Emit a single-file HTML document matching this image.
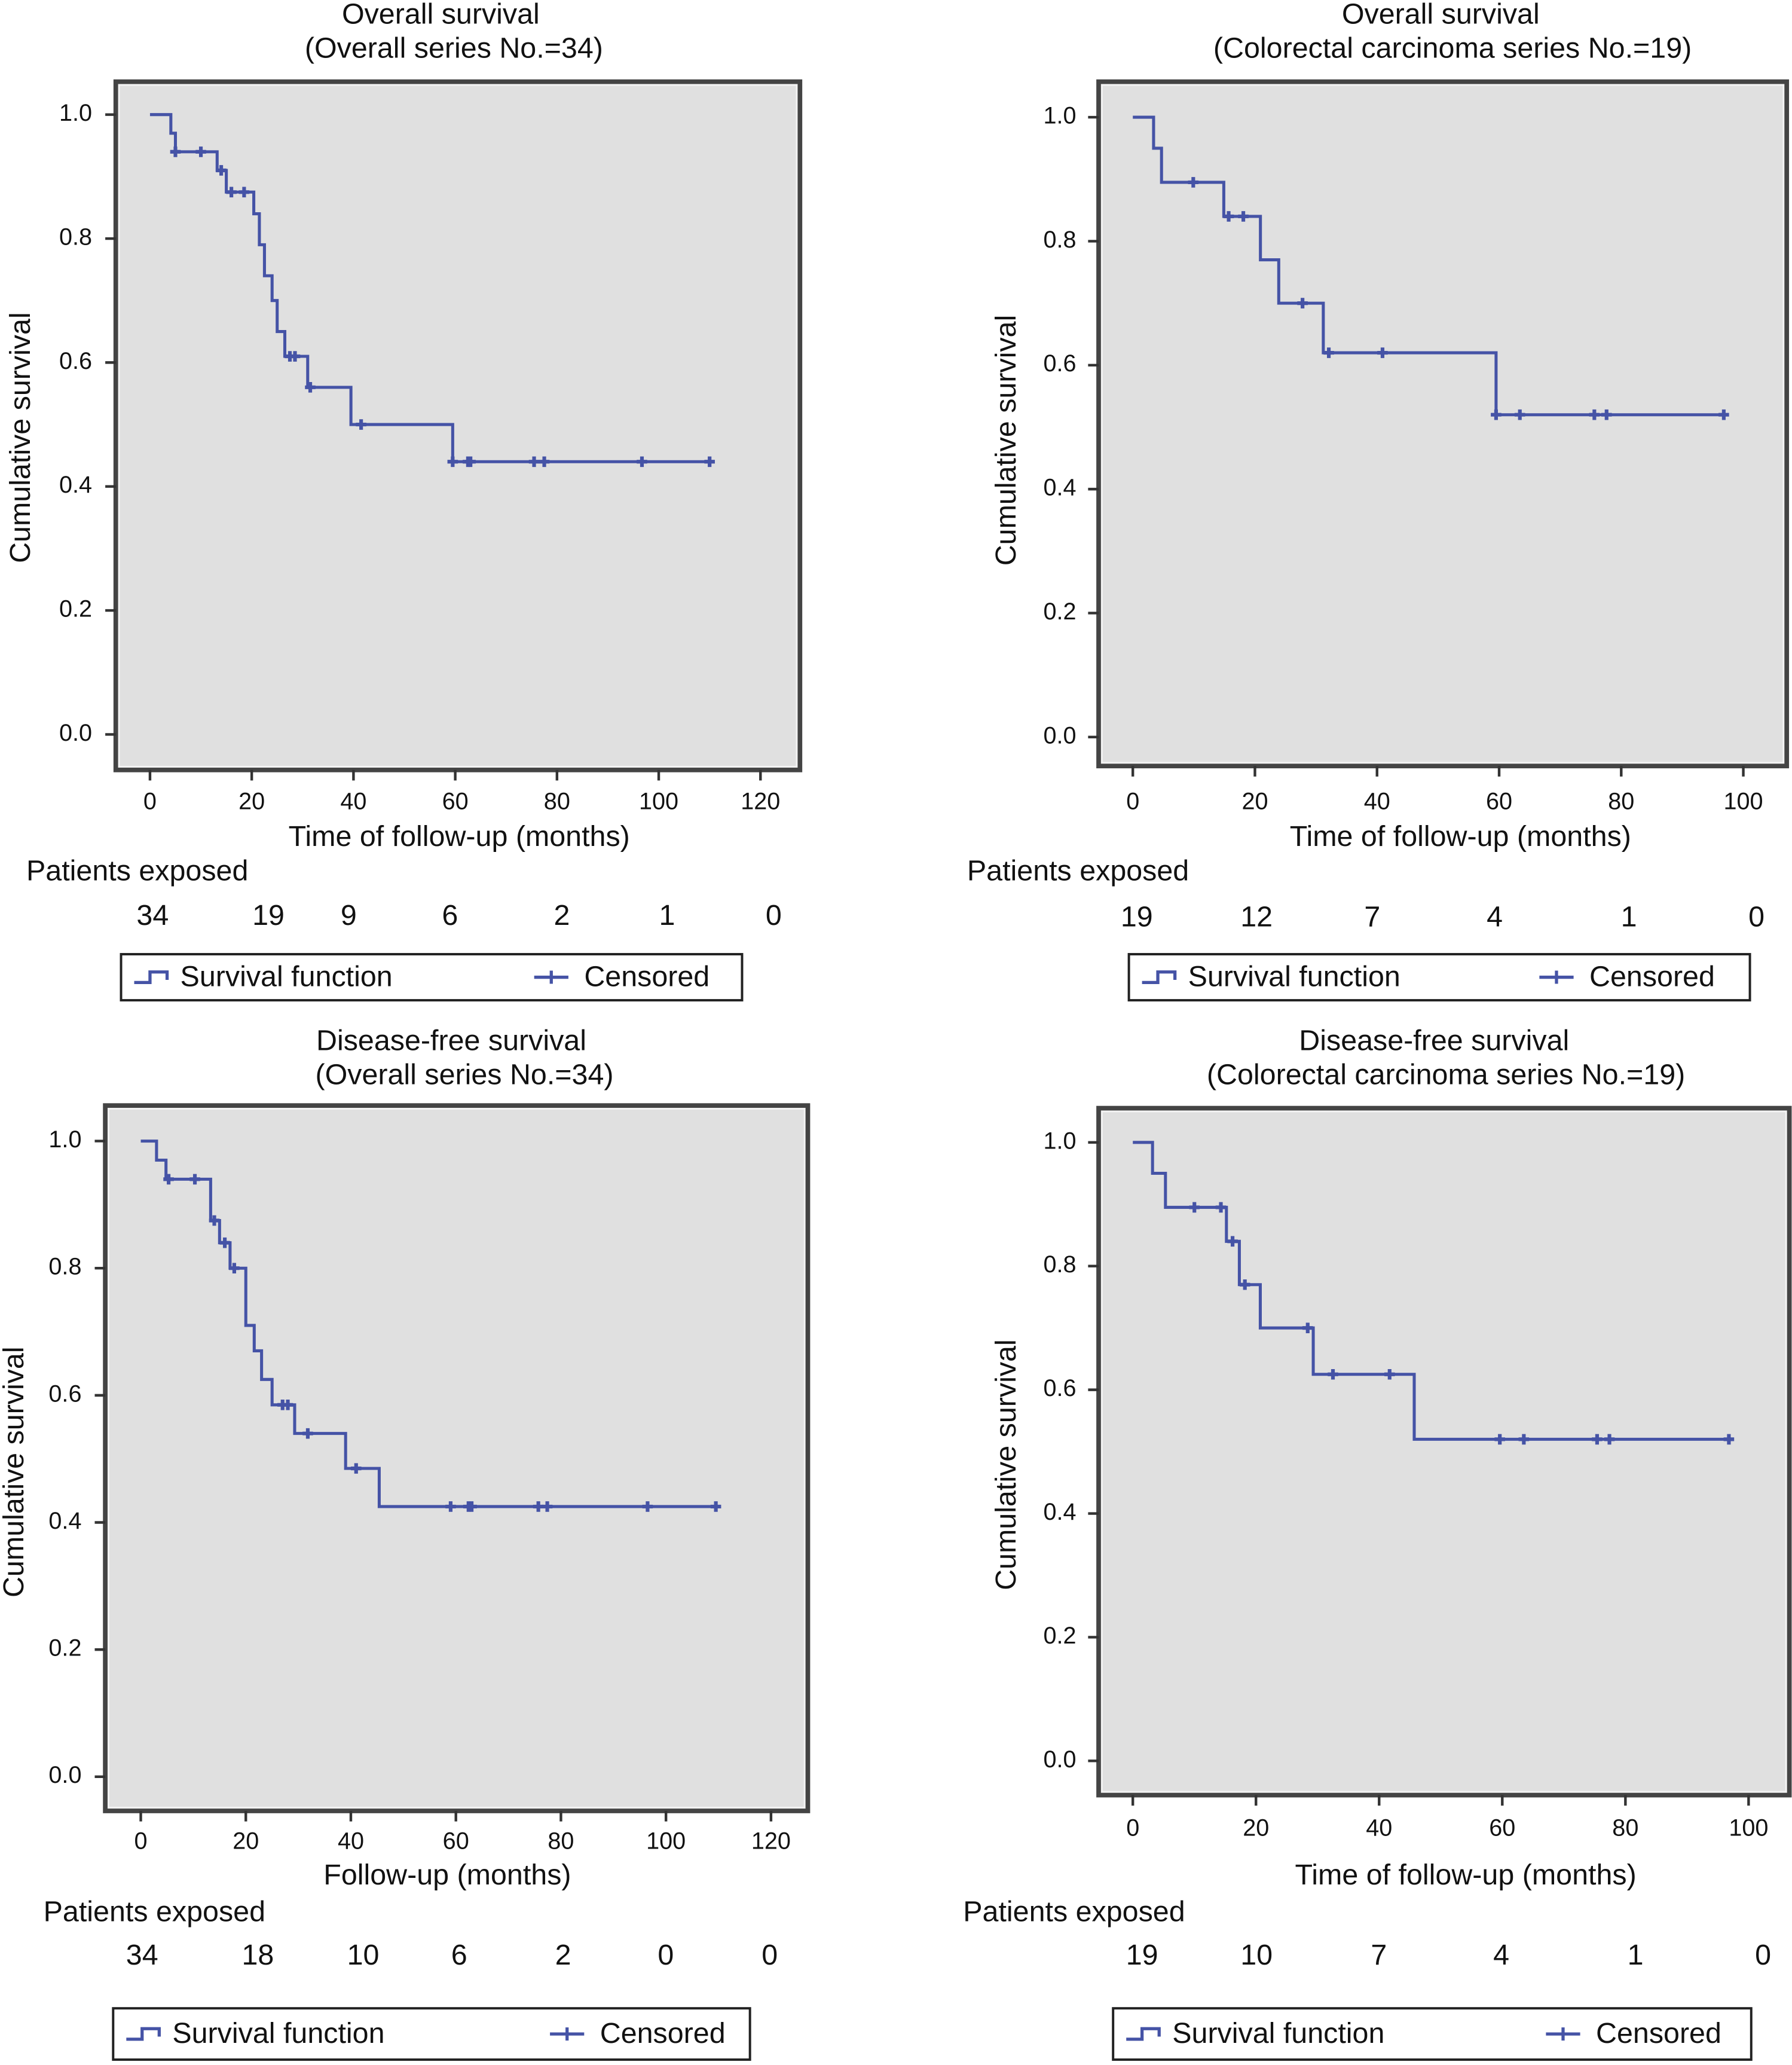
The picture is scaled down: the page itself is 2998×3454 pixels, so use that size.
<!DOCTYPE html>
<html><head><meta charset="utf-8">
<style>
html,body{margin:0;padding:0;background:#fff;}
svg{display:block;}
text{font-family:"Liberation Sans",sans-serif;fill:#111;}
</style></head>
<body>
<svg id="fig" width="2998" height="3454" viewBox="0 0 1362 1569" xmlns="http://www.w3.org/2000/svg"></svg>
<script>
// ---- Panel A: Overall survival, overall series ----
const aEventTimes = [4.1, 5.0, 13.2, 15, 20.4, 21.5, 22.5, 24, 25, 26.5, 31, 39.5, 59.5];
const aSurvival   = [0.97, 0.94, 0.91, 0.875, 0.84, 0.79, 0.74, 0.70, 0.65, 0.61, 0.56, 0.50, 0.44];
const aCensored   = [5, 10, 14, 16, 18.5, 27.5, 28.5, 31.5, 41.5, 59.5, 62.5, 63, 75.5, 77.5, 96.7, 110];
const aAtRisk     = ["34","19","9","6","2","1","0"];
const aXTicks     = [0,20,40,60,80,100,120];
// ---- Panel B: Overall survival, colorectal ----
const bEventTimes = [3.4, 4.7, 14.9, 20.9, 23.9, 31.2, 59.5];
const bSurvival   = [0.95, 0.895, 0.84, 0.77, 0.70, 0.62, 0.52];
const bCensored   = [9.9, 15.7, 18.1, 27.8, 32.1, 40.9, 59.5, 63.4, 75.6, 77.6, 96.8];
const bAtRisk     = ["19","12","7","4","1","0"];
const bXTicks     = [0,20,40,60,80,100];
// ---- Panel C: Disease-free survival, overall series ----
const cEventTimes = [3, 4.8, 13.3, 15, 17, 20, 21.6, 23, 25, 29.3, 39, 45.4];
const cSurvival   = [0.97, 0.94, 0.875, 0.84, 0.80, 0.71, 0.67, 0.625, 0.585, 0.54, 0.485, 0.425];
const cCensored   = [5.3, 10.3, 14, 16, 17.8, 27, 28, 31.8, 41, 59, 62.4, 63, 75.7, 77.4, 96.5, 109.5];
const cAtRisk     = ["34","18","10","6","2","0","0"];
const cXTicks     = [0,20,40,60,80,100,120];
// ---- Panel D: Disease-free survival, colorectal ----
const dEventTimes = [3.2, 5.3, 15.2, 17.3, 20.7, 29.3, 45.7];
const dSurvival   = [0.95, 0.895, 0.84, 0.77, 0.70, 0.625, 0.52];
const dCensored   = [10, 14.3, 16.2, 18.2, 28.4, 32.5, 41.7, 59.6, 63.5, 75.4, 77.4, 96.8];
const dAtRisk     = ["19","10","7","4","1","0"];
const dXTicks     = [0,20,40,60,80,100];
const yTicks      = [0.0,0.2,0.4,0.6,0.8,1.0];

const NS="http://www.w3.org/2000/svg";
const svg=document.getElementById('fig');
function mk(tag,attrs,parent){const e=document.createElementNS(NS,tag);for(const k in attrs)e.setAttribute(k,attrs[k]);(parent||svg).appendChild(e);return e;}
function txt(s,x,y,anchor,parent,size){const t=mk('text',{x:x,y:y,'text-anchor':anchor||'middle','dominant-baseline':'middle','font-size':size||22},parent);t.textContent=s;return t;}

const panels=[
 {key:'a',ev:aEventTimes,sv:aSurvival,ce:aCensored,risk:aAtRisk,xt:aXTicks,riskX:[116,204,265,342,427,507,588],
  box:[88,62,608,585],x0:114,x1:578,xmax:120,y1:87,y0:558,ytx:70,ylabX:17,
  t1:'Overall survival',t2:'(Overall series No.=34)',tx:335,tx2:345,ty:12,xlab:'Time of follow-up (months)',xlabX:349,xlabY:637,xtY:610,
  peX:20,peY:663,riskY:697,leg:[92,725,564,760],legC:406},
 {key:'b',ev:bEventTimes,sv:bSurvival,ce:bCensored,risk:bAtRisk,xt:bXTicks,riskX:[864,955,1043,1136,1238,1335],
  box:[835,62,1358,582],x0:861,x1:1325,xmax:100,y1:89,y0:560,ytx:818,ylabX:766,
  t1:'Overall survival',t2:'(Colorectal carcinoma series No.=19)',tx:1095,tx2:1104,ty:12,xlab:'Time of follow-up (months)',xlabX:1110,xlabY:637,xtY:610,
  peX:735,peY:663,riskY:698,leg:[858,725,1330,760],legC:1170},
 {key:'c',ev:cEventTimes,sv:cSurvival,ce:cCensored,risk:cAtRisk,xt:cXTicks,riskX:[108,196,276,349,428,506,585],
  box:[80,840,614,1376],x0:107,x1:586,xmax:120,y1:867,y0:1350,ytx:62,ylabX:12,
  t1:'Disease-free survival',t2:'(Overall series No.=34)',tx:343,tx2:353,ty:792,xlab:'Follow-up (months)',xlabX:340,xlabY:1426,xtY:1400,
  peX:33,peY:1454,riskY:1487,leg:[86,1526,570,1565],legC:418},
 {key:'d',ev:dEventTimes,sv:dSurvival,ce:dCensored,risk:dAtRisk,xt:dXTicks,riskX:[868,955,1048,1141,1243,1340],
  box:[835,842,1360,1364],x0:861,x1:1329,xmax:100,y1:868,y0:1338,ytx:818,ylabX:766,
  t1:'Disease-free survival',t2:'(Colorectal carcinoma series No.=19)',tx:1090,tx2:1099,ty:792,xlab:'Time of follow-up (months)',xlabX:1114,xlabY:1426,xtY:1390,
  peX:732,peY:1454,riskY:1487,leg:[846,1526,1331,1565],legC:1175}
];
const BLUE='#4553a6';
panels.forEach(p=>{
  const g=mk('g',{});
  
  
  const X=t=>p.x0+(p.x1-p.x0)*t/p.xmax;
  const Y=s=>p.y0+(p.y1-p.y0)*s;
  const [bx0,by0,bx1,by1]=p.box;
  const bg=mk('rect',{x:bx0,y:by0,width:bx1-bx0,height:by1-by0,fill:'#e0e0e0',stroke:'#444','stroke-width':3.5},g);
  
  
  mk('rect',{x:bx0+2.5,y:by0+2.5,width:bx1-bx0-5,height:by1-by0-5,fill:'none',stroke:'#f4f4f4','stroke-width':1.2},g);
  const t1=txt(p.t1,p.tx,p.ty,'middle',g);
  
  
  const t2=txt(p.t2,p.tx2,p.ty+26,'middle',g);
  
  
  yTicks.forEach(v=>{
    mk('line',{x1:bx0-8,x2:bx0,y1:Y(v),y2:Y(v),stroke:'#333','stroke-width':2},g);
    const l=txt(v.toFixed(1),p.ytx,Y(v),'end',g,18);
    
    
  });
  const yl=txt('Cumulative survival',0,0,'middle',g,22);
  yl.setAttribute('transform','translate('+p.ylabX+','+((p.y0+p.y1)/2+10)+') rotate(-90)');
  
  
  p.xt.forEach(v=>{
    mk('line',{x1:X(v),x2:X(v),y1:by1,y2:by1+8,stroke:'#333','stroke-width':2},g);
    const l=txt(String(v),X(v),p.xtY,'middle',g,18);
    
    
  });
  const xl=txt(p.xlab,p.xlabX,p.xlabY,'middle',g,22);
  
  
  const last=Math.max(...p.ce, ...p.ev);
  let d='M'+X(0)+','+Y(1);
  p.ev.forEach((t,i)=>{d+=' H'+X(t)+' V'+Y(p.sv[i]);});
  d+=' H'+X(last);
  const path=mk('path',{d:d,fill:'none',stroke:BLUE,'stroke-width':2.3},g);
  
  
  const survAt=t=>{let v=1;p.ev.forEach((e,i)=>{if(e<=t)v=p.sv[i];});return v;};
  p.ce.forEach(t=>{
    const cx=X(t),cy=Y(survAt(t));
    const m=mk('path',{d:'M'+(cx-4)+','+cy+' H'+(cx+4)+' M'+cx+','+(cy-4)+' V'+(cy+4),stroke:BLUE,'stroke-width':2.8},g);
    
    
  });
  const pe=txt('Patients exposed',p.peX,p.peY,'start',g,22);
  
  
  p.risk.forEach((r,i)=>{
    const l=txt(r,p.riskX[i],p.riskY,'middle',g,22);
    
    
  });
  const [lx0,ly0,lx1,ly1]=p.leg;const ly=(ly0+ly1)/2;
  const lg=mk('g',{},g);
  
  
  mk('rect',{x:lx0,y:ly0,width:lx1-lx0,height:ly1-ly0,fill:'#fff',stroke:'#222','stroke-width':1.8},lg);
  mk('path',{d:'M'+(lx0+10)+','+(ly+4)+' H'+(lx0+22)+' V'+(ly-4)+' H'+(lx0+35)+' V'+(ly+2),fill:'none',stroke:BLUE,'stroke-width':2.4},lg);
  const e1=txt('Survival function',lx0+45,ly+1,'start',lg,22);
  
  
  const cx=p.legC+13;
  mk('path',{d:'M'+(cx-13)+','+ly+' H'+(cx+13)+' M'+cx+','+(ly-5)+' V'+(ly+5),stroke:BLUE,'stroke-width':2.4},lg);
  const e2=txt('Censored',p.legC+38,ly+1,'start',lg,22);
  
  
});
</script>
</body></html>
